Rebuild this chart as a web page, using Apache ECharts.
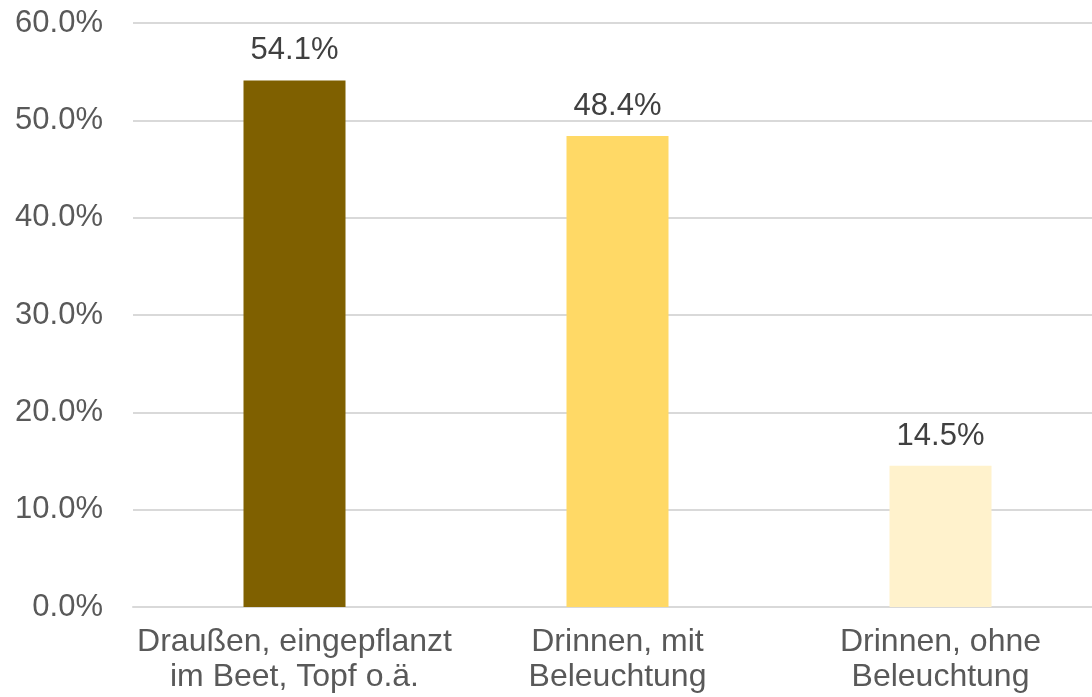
<!DOCTYPE html>
<html>
<head>
<meta charset="utf-8">
<script src="https://cdn.jsdelivr.net/npm/echarts@6/dist/echarts.min.js"></script>
<style>html,body{margin:0;padding:0;background:#fff;overflow:hidden;}#c{width:1092px;height:697px;}</style>
</head>
<body>
<div id="c"></div>
<script>
const categories = ['Draußen, eingepflanzt\nim Beet, Topf o.ä.', 'Drinnen, mit\nBeleuchtung', 'Drinnen, ohne\nBeleuchtung'];
const values = [54.1, 48.4, 14.5];
const colors = ['#7f6000', '#ffd966', '#fff2cc'];

const chart = echarts.init(document.getElementById('c'));
chart.setOption({
  animation: false,
  grid: { left: 133, width: 969, top: 23, bottom: 90, containLabel: false, outerBoundsMode: 'none' },
  xAxis: {
    type: 'category',
    data: categories,
    axisLine: { lineStyle: { color: '#d9d9d9', width: 2 } },
    axisTick: { show: false },
    axisLabel: { color: '#595959', fontFamily: 'Liberation Sans', fontSize: 32, lineHeight: 35, margin: 18, interval: 0 }
  },
  yAxis: {
    type: 'value',
    min: 0, max: 60, interval: 10,
    axisLine: { show: false },
    axisTick: { show: false },
    splitLine: { lineStyle: { color: '#d9d9d9', width: 2 } },
    axisLabel: { color: '#595959', fontFamily: 'Liberation Sans', fontSize: 31, margin: 30, formatter: v => v.toFixed(1) + '%' }
  },
  series: [{
    type: 'bar',
    barWidth: 102,
    data: values.map((v, i) => ({ value: v, itemStyle: { color: colors[i] } })),
    label: { show: true, position: 'top', distance: 14, color: '#404040', fontFamily: 'Liberation Sans', fontSize: 31, formatter: p => p.value.toFixed(1) + '%' }
  }]
});
</script>
</body>
</html>
